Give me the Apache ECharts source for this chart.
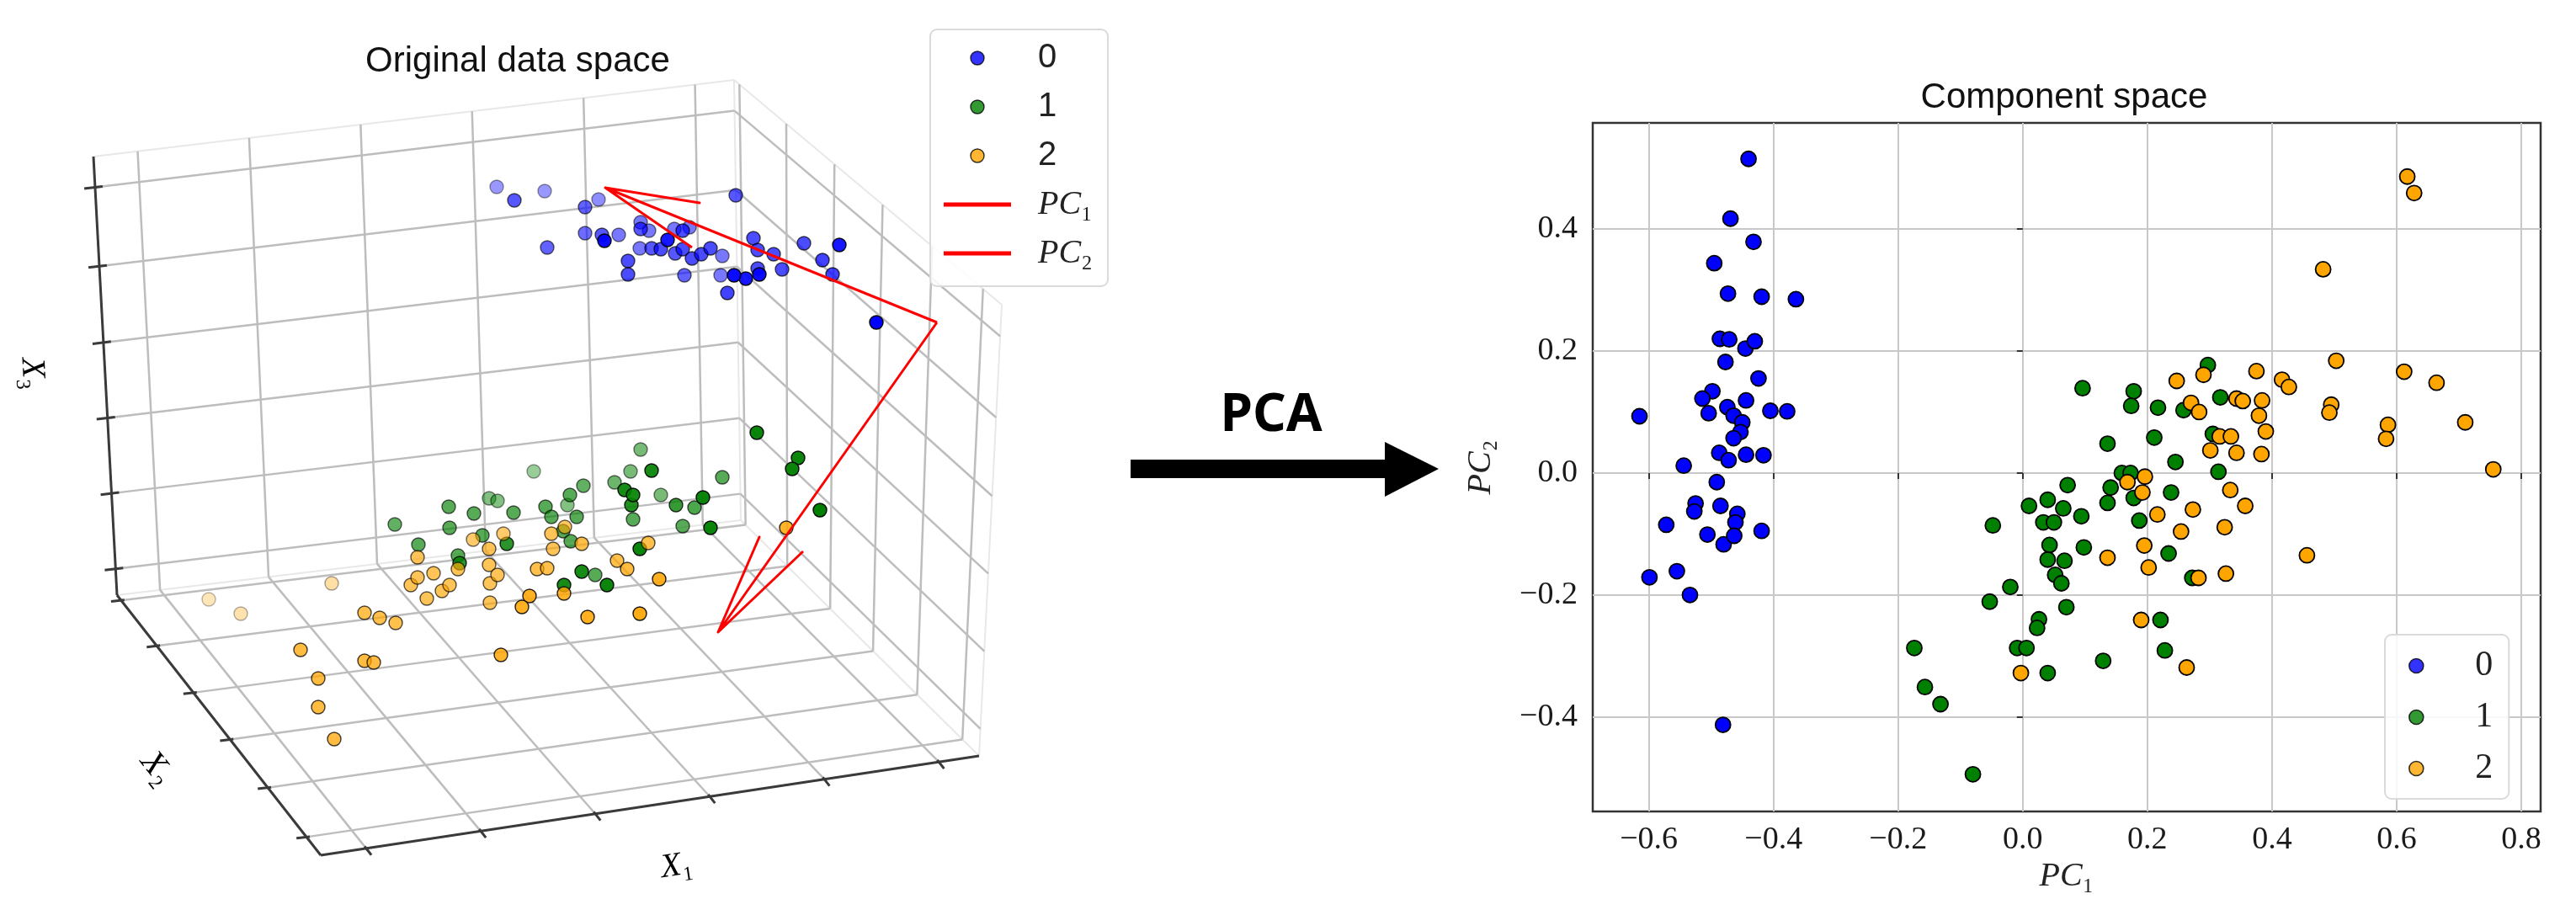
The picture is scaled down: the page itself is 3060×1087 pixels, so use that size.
<!DOCTYPE html>
<html>
<head>
<meta charset="utf-8">
<script src="https://cdn.jsdelivr.net/npm/echarts@6/dist/echarts.min.js"></script>
<style>
html, body { margin: 0; padding: 0; background: #fff; }
#main { width: 3060px; height: 1087px; }
</style>
</head>
<body>
<div id="main"></div>
<script>
// ---- data ----
var classNames = ['0', '1', '2'];

// original data space, projected view coords [u, v, depth]
var origClass0 = [
    [590,222,0.3],[611,238,0.6],[647,227,0.3],[695,246,0.55],[711,237,0.35],[874,232,0.6],
    [650,294,0.55],[695,277,0.5],[715,279,0.6],[718,286,0.95],[735,279,0.45],[761,264,0.45],
    [761,272,0.6],[771,274,0.45],[801,272,0.45],[811,274,0.65],[819,270,0.45],[793,285,0.9],
    [760,295,0.45],[774,295,0.6],[785,296,0.65],[802,301,0.6],[811,296,0.65],[822,307,0.65],
    [833,302,0.65],[844,295,0.65],[858,304,0.45],[746,310,0.65],[746,326,0.65],[813,327,0.55],
    [856,327,0.45],[872,327,0.95],[886,331,0.9],[902,326,0.95],[900,319,0.65],[864,348,0.7],
    [895,283,0.65],[900,297,0.65],[919,302,0.65],[929,320,0.65],[955,289,0.65],[977,309,0.7],
    [997,291,0.9],[989,326,0.7],[1041,383,1.0]
];
var origClass1 = [
    [899,514,0.95],[761,534,0.45],[948,544,0.95],[941,557,0.95],[634,560,0.3],[774,559,0.9],
    [749,560,0.45],[730,573,0.5],[858,567,0.6],[693,577,0.55],[677,588,0.6],[742,582,0.9],
    [752,588,0.9],[785,588,0.45],[581,592,0.4],[591,595,0.4],[533,602,0.6],[648,602,0.6],
    [674,600,0.4],[750,600,0.85],[803,600,0.75],[825,603,0.65],[835,591,0.95],[563,610,0.6],
    [610,609,0.6],[655,614,0.6],[685,614,0.6],[752,617,0.6],[469,623,0.55],[534,627,0.6],
    [811,625,0.6],[844,627,0.95],[974,606,1.0],[573,636,0.6],[669,631,0.6],[678,643,0.6],
    [602,646,0.8],[497,647,0.6],[544,660,0.6],[760,652,0.95],[707,683,0.6],[691,679,0.9],
    [670,695,0.9],[721,695,0.95],[546,669,0.8]
];
var origClass2 = [
    [248,712,0.15],[286,729,0.2],[394,693,0.25],[357,772,0.7],[378,806,0.7],[378,840,0.7],
    [397,878,0.7],[433,728,0.65],[451,734,0.65],[470,740,0.65],[433,785,0.7],[444,787,0.7],
    [595,778,0.8],[488,695,0.6],[496,686,0.6],[496,662,0.6],[515,681,0.6],[507,711,0.6],
    [525,702,0.6],[534,695,0.6],[544,676,0.6],[581,652,0.6],[581,671,0.6],[582,693,0.6],
    [591,683,0.6],[582,716,0.6],[598,634,0.5],[655,634,0.6],[657,652,0.6],[638,676,0.65],
    [650,675,0.65],[671,626,0.55],[691,646,0.65],[629,708,0.85],[620,721,0.85],[670,705,0.8],
    [698,733,0.85],[733,666,0.65],[745,676,0.7],[770,645,0.65],[783,688,0.85],[760,729,0.9],
    [934,627,0.8],[562,641,0.5]
];

// principal directions drawn in the original space (base, tip, barb, tip, barb)
var pc1Arrow = [[1113,383],[719,223],[831,241],[719,223],[822,294]];
var pc2Arrow = [[1113,383],[853,751],[902,638],[853,751],[954,655]];

// component space [PC1, PC2]
var comp0 = [
    [-0.615,0.093],[-0.599,-0.171],[-0.440,0.515],[-0.469,0.417],[-0.432,0.379],[-0.495,0.344],
    [-0.473,0.294],[-0.419,0.289],[-0.364,0.285],[-0.486,0.220],[-0.471,0.219],[-0.445,0.204],
    [-0.430,0.216],[-0.477,0.182],[-0.424,0.155],[-0.498,0.134],[-0.514,0.122],[-0.504,0.098],
    [-0.474,0.108],[-0.444,0.119],[-0.464,0.094],[-0.450,0.083],[-0.453,0.067],[-0.464,0.057],
    [-0.405,0.102],[-0.378,0.101],[-0.487,0.033],[-0.472,0.021],[-0.444,0.030],[-0.416,0.029],
    [-0.544,0.012],[-0.491,-0.015],[-0.525,-0.050],[-0.527,-0.063],[-0.485,-0.054],[-0.458,-0.067],
    [-0.461,-0.081],[-0.506,-0.101],[-0.480,-0.117],[-0.463,-0.103],[-0.419,-0.095],[-0.572,-0.085],
    [-0.555,-0.161],[-0.534,-0.200],[-0.481,-0.413]
];
var comp1 = [
    [0.096,0.139],[0.178,0.134],[0.174,0.110],[0.217,0.107],[0.297,0.177],[0.317,0.124],
    [0.258,0.103],[0.305,0.064],[0.211,0.058],[0.136,0.048],[0.245,0.018],[0.159,0.000],
    [0.173,0.000],[0.314,0.002],[0.072,-0.020],[0.141,-0.024],[0.238,-0.032],[0.178,-0.041],
    [0.136,-0.049],[0.010,-0.054],[0.040,-0.044],[0.065,-0.058],[0.094,-0.071],[0.187,-0.078],
    [-0.048,-0.086],[0.033,-0.081],[0.050,-0.081],[0.043,-0.118],[0.098,-0.122],[0.234,-0.132],
    [0.040,-0.142],[0.067,-0.144],[0.052,-0.167],[0.062,-0.181],[-0.020,-0.187],[-0.053,-0.211],
    [0.070,-0.220],[0.026,-0.240],[0.023,-0.254],[0.221,-0.241],[0.272,-0.172],[-0.174,-0.287],
    [-0.009,-0.287],[0.006,-0.287],[0.228,-0.291],[0.129,-0.308],[0.040,-0.328],[-0.157,-0.351],
    [-0.132,-0.379],[-0.080,-0.494]
];
var comp2 = [
    [0.617,0.486],[0.628,0.459],[0.482,0.334],[0.503,0.184],[0.375,0.167],[0.416,0.153],
    [0.427,0.141],[0.612,0.166],[0.664,0.148],[0.247,0.151],[0.290,0.161],[0.270,0.115],
    [0.283,0.100],[0.343,0.122],[0.353,0.118],[0.384,0.119],[0.379,0.094],[0.495,0.112],
    [0.492,0.099],[0.390,0.068],[0.586,0.079],[0.583,0.056],[0.710,0.083],[0.755,0.006],
    [0.316,0.060],[0.334,0.060],[0.301,0.037],[0.343,0.033],[0.383,0.031],[0.168,-0.015],
    [0.196,-0.006],[0.192,-0.032],[0.333,-0.028],[0.357,-0.054],[0.273,-0.060],[0.216,-0.068],
    [0.254,-0.096],[0.324,-0.089],[0.195,-0.119],[0.136,-0.139],[0.202,-0.155],[0.282,-0.172],
    [0.326,-0.165],[0.456,-0.135],[0.190,-0.241],[0.263,-0.319],[-0.003,-0.328]
];

var pc1TickLabels = [-0.6, -0.4, -0.2, 0.0, 0.2, 0.4, 0.6, 0.8];
var pc2TickLabels = [-0.4, -0.2, 0.0, 0.2, 0.4];

// ---- styles / layout ----
var colors = ['#0000ff', '#008000', '#ffa500'];
var serif = 'Liberation Serif';
var sans = 'Liberation Sans';
var subDigit = { '1': '\u2081', '2': '\u2082', '3': '\u2083' };

// projected corners of the 3d box (view coords)
var C000 = [139, 707], C100 = [880, 618], C010 = [381, 1016], C110 = [1163, 898];
var C001 = [111, 186], C101 = [872, 95], C111 = [1190, 362];
var x1Ticks = [0.069, 0.243, 0.417, 0.591, 0.765, 0.939];
var x2Ticks = [0.02, 0.195, 0.375, 0.555, 0.74, 0.93];
var x3Ticks = [0.06, 0.232, 0.404, 0.576, 0.75, 0.93];

function lerp(a, b, t) { return [a[0] + (b[0] - a[0]) * t, a[1] + (b[1] - a[1]) * t]; }
function unit(a, b) {
    var dx = b[0] - a[0], dy = b[1] - a[1], l = Math.sqrt(dx * dx + dy * dy);
    return [dx / l, dy / l];
}
function seg(a, b) { return { coords: [a, b] }; }
function tickSeg(p, d, from, to) {
    return seg([p[0] + d[0] * from, p[1] + d[1] * from], [p[0] + d[0] * to, p[1] + d[1] * to]);
}

var gridSegs = [], paneSegs = [], axisSegs = [];
x1Ticks.forEach(function (t) {
    gridSegs.push(seg(lerp(C000, C100, t), lerp(C001, C101, t)));
    gridSegs.push(seg(lerp(C000, C100, t), lerp(C010, C110, t)));
});
x2Ticks.forEach(function (s) {
    gridSegs.push(seg(lerp(C000, C010, s), lerp(C100, C110, s)));
    gridSegs.push(seg(lerp(C100, C110, s), lerp(C101, C111, s)));
});
x3Ticks.forEach(function (h) {
    gridSegs.push(seg(lerp(C000, C001, h), lerp(C100, C101, h)));
    gridSegs.push(seg(lerp(C100, C101, h), lerp(C110, C111, h)));
});
paneSegs.push(seg(C001, C101), seg(C101, C111), seg(C111, C110), seg(C100, C101), seg(C000, C100), seg(C100, C110));
axisSegs.push(seg(C000, C001), seg(C000, C010), seg(C010, C110));
var d1 = unit(C000, C100), d2 = unit(C000, C010);
x1Ticks.forEach(function (t) { axisSegs.push(tickSeg(lerp(C010, C110, t), d2, -3, 10)); });
x2Ticks.forEach(function (s) { axisSegs.push(tickSeg(lerp(C000, C010, s), d1, -12, 4)); });
x3Ticks.forEach(function (h) { axisSegs.push(tickSeg(lerp(C000, C001, h), d1, -13, 9)); });

function shaded(points) {
    return points.slice().sort(function (a, b) { return a[2] - b[2]; }).map(function (p) {
        return { value: [p[0], p[1]], itemStyle: { opacity: 0.15 + 0.85 * p[2] } };
    });
}

function tickFormatter(list) {
    return function (v) {
        for (var i = 0; i < list.length; i++) {
            if (Math.abs(list[i] - v) < 1e-6) return list[i].toFixed(1).replace('-', '\u2212');
        }
        return '';
    };
}

var origSets = [origClass0, origClass1, origClass2];
var compSets = [comp0, comp1, comp2];

var series = [
    { type: 'lines', coordinateSystem: 'cartesian2d', xAxisIndex: 0, yAxisIndex: 0, silent: true, z: 1,
      lineStyle: { color: '#e8e8e8', width: 2, opacity: 1 }, data: paneSegs },
    { type: 'lines', coordinateSystem: 'cartesian2d', xAxisIndex: 0, yAxisIndex: 0, silent: true, z: 1,
      lineStyle: { color: '#bdbdbd', width: 2.5, opacity: 1 }, data: gridSegs },
    { type: 'lines', coordinateSystem: 'cartesian2d', xAxisIndex: 0, yAxisIndex: 0, silent: true, z: 1,
      lineStyle: { color: '#3a3a3a', width: 3, opacity: 1 }, data: axisSegs }
];
origSets.forEach(function (pts, i) {
    series.push({
        type: 'scatter', name: classNames[i], xAxisIndex: 0, yAxisIndex: 0, z: 3,
        symbolSize: 16,
        itemStyle: { color: colors[i], borderColor: '#000', borderWidth: 1.4 },
        data: shaded(pts)
    });
});
[pc1Arrow, pc2Arrow].forEach(function (pts, i) {
    series.push({
        type: 'line', name: 'PC' + (i + 1), xAxisIndex: 0, yAxisIndex: 0, z: 5,
        symbol: 'none', silent: true,
        itemStyle: { color: '#ff0000' },
        lineStyle: { color: '#ff0000', width: 3, join: 'round' },
        data: pts
    });
});
compSets.forEach(function (pts, i) {
    series.push({
        type: 'scatter', name: classNames[i], xAxisIndex: 1, yAxisIndex: 1, z: 3,
        symbolSize: 18,
        itemStyle: { color: colors[i], borderColor: '#000', borderWidth: 1.8, opacity: 1 },
        data: pts
    });
});

var legendRich = {
    pad: { width: 27 },
    n: { fontFamily: sans, fontSize: 40, lineHeight: 40, color: '#222' },
    r: { fontFamily: serif, fontSize: 42, lineHeight: 40, color: '#222' },
    p: { fontFamily: serif, fontStyle: 'italic', fontSize: 40, lineHeight: 40, color: '#222' },
    s: { fontFamily: serif, fontSize: 40, lineHeight: 40, color: '#222' }
};
var lineIcon = 'path://M0,0H80V5H0Z';

var option = {
    animation: false,
    backgroundColor: '#fff',
    grid: [
        { left: 0, top: 0, width: 1360, height: 1087, show: false },
        { left: 1892, top: 146, width: 1126, height: 818, show: true,
          borderColor: '#333', borderWidth: 2.5, backgroundColor: 'transparent' }
    ],
    xAxis: [
        { gridIndex: 0, type: 'value', min: 0, max: 1360, show: false },
        { gridIndex: 1, type: 'value', min: -0.69, max: 0.831, splitNumber: 7,
          axisLine: { show: false },
          axisTick: { show: true, length: 7, lineStyle: { color: '#333', width: 2 } },
          axisLabel: { formatter: tickFormatter(pc1TickLabels), fontFamily: serif, fontSize: 38,
                       color: '#1a1a1a', margin: 15, showMinLabel: false, showMaxLabel: false },
          splitLine: { show: true, showMinLine: false, showMaxLine: false,
                       lineStyle: { color: '#c8c8c8', width: 2 } },
          name: '{p|PC}{s|' + subDigit['1'] + '}', nameLocation: 'middle', nameGap: 52,
          nameTextStyle: { rich: legendRich } }
    ],
    yAxis: [
        { gridIndex: 0, type: 'value', min: 0, max: 1087, inverse: true, show: false },
        { gridIndex: 1, type: 'value', min: -0.555, max: 0.574, splitNumber: 6,
          axisLine: { show: false },
          axisTick: { show: true, length: 7, lineStyle: { color: '#333', width: 2 } },
          axisLabel: { formatter: tickFormatter(pc2TickLabels), fontFamily: serif, fontSize: 38,
                       color: '#1a1a1a', margin: 18, showMinLabel: false, showMaxLabel: false },
          splitLine: { show: true, showMinLine: false, showMaxLine: false,
                       lineStyle: { color: '#c8c8c8', width: 2 } },
          name: '{p|PC}{s|' + subDigit['2'] + '}', nameLocation: 'middle', nameGap: 113, nameRotate: 90,
          nameTextStyle: { rich: legendRich } }
    ],
    legend: [
        { orient: 'vertical', left: 1105, top: 35, z: 10, selectedMode: false,
          data: ['0', '1', '2',
                 { name: 'PC1', icon: lineIcon, itemStyle: { color: '#ff0000', borderWidth: 0 } },
                 { name: 'PC2', icon: lineIcon, itemStyle: { color: '#ff0000', borderWidth: 0 } }],
          itemWidth: 80, itemHeight: 16, itemGap: 18, padding: [14, 18, 19, 16],
          backgroundColor: 'rgba(255,255,255,0.85)', borderColor: '#dadada', borderWidth: 2, borderRadius: 8,
          itemStyle: { borderColor: '#000', borderWidth: 1.4 },
          textStyle: { rich: legendRich },
          formatter: function (name) {
              if (name.indexOf('PC') === 0) return '{pad| }{p|PC}{s|' + subDigit[name.slice(2)] + '}';
              return '{pad| }{n|' + name + '}';
          } },
        { orient: 'vertical', left: 2833, top: 754, z: 10, selectedMode: false,
          data: ['0', '1', '2'],
          itemWidth: 56, itemHeight: 17, itemGap: 19, padding: [16, 19, 15, 28],
          backgroundColor: 'rgba(255,255,255,0.85)', borderColor: '#dadada', borderWidth: 2, borderRadius: 8,
          itemStyle: { borderColor: '#000', borderWidth: 1.6 },
          textStyle: { rich: { pad: { width: 37 }, r: legendRich.r } },
          formatter: function (name) { return '{pad| }{r|' + name + '}'; } }
    ],
    graphic: [
        { type: 'text', x: 615, y: 73, style: { text: 'Original data space', fontFamily: sans, fontSize: 42,
          fill: '#111', align: 'center', verticalAlign: 'middle' } },
        { type: 'text', x: 2452, y: 116, style: { text: 'Component space', fontFamily: sans, fontSize: 42,
          fill: '#111', align: 'center', verticalAlign: 'middle' } },
        { type: 'text', x: 804, y: 1029, rotation: 0.15, style: { text: '{p|X}{s|' + subDigit['1'] + '}',
          rich: legendRich, align: 'center', verticalAlign: 'middle' } },
        { type: 'text', x: 186, y: 913, rotation: -0.9, style: { text: '{p|X}{s|' + subDigit['2'] + '}',
          rich: legendRich, align: 'center', verticalAlign: 'middle' } },
        { type: 'text', x: 38, y: 444, rotation: -1.52, style: { text: '{p|X}{s|' + subDigit['3'] + '}',
          rich: legendRich, align: 'center', verticalAlign: 'middle' } },
        { type: 'text', x: 1510, y: 494, style: { text: 'PCA', fontFamily: 'Noto Sans', fontWeight: 'bold',
          fontSize: 62, fill: '#000', align: 'center', verticalAlign: 'middle' } },
        { type: 'polygon', shape: { points: [[1343, 546], [1645, 546], [1645, 525], [1709, 557],
          [1645, 590], [1645, 568], [1343, 568]] }, style: { fill: '#000' } }
    ],
    series: series
};

var chart = echarts.init(document.getElementById('main'));
chart.setOption(option);
</script>
</body>
</html>
